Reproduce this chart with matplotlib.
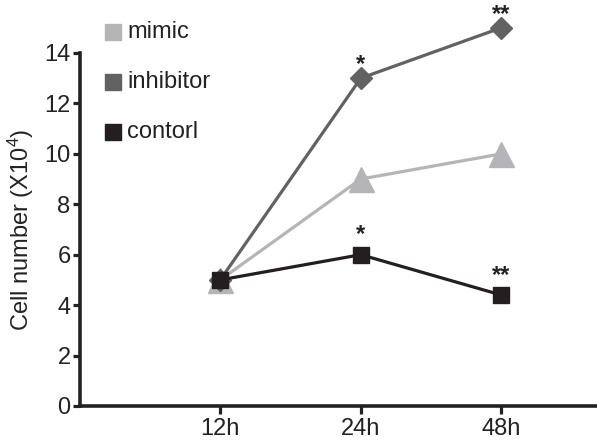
import matplotlib.pyplot as plt
from matplotlib.lines import Line2D

plt.rcParams['font.family'] = ['Liberation Sans', 'DejaVu Sans']
plt.rcParams['mathtext.fontset'] = 'custom'
plt.rcParams['mathtext.rm'] = 'Liberation Sans'
plt.rcParams['mathtext.it'] = 'Liberation Sans:italic'

# data
times = ['12h', '24h', '48h']
mimic = [5, 9, 10]
inhibitor = [5, 13, 15]
control = [5, 6, 4.4]
inhibitor_stars = ['', '*', '**']
control_stars = ['', '*', '**']
labels = ['mimic', 'inhibitor', 'contorl']

x = [1, 2, 3]
c_mimic = '#b5b5b7'
c_inhib = '#626262'
c_ctrl = '#231f20'
c_text = '#222222'

fig = plt.figure(figsize=(5.97, 4.41), dpi=100)
ax = fig.add_axes([0.1333, 0.0794, 0.8667, 0.8005])

ax.plot(x, mimic, color=c_mimic, lw=2.3, marker='^', ms=18, clip_on=False, zorder=3)
ax.plot(x, inhibitor, color=c_inhib, lw=2.3, marker='D', ms=11, clip_on=False, zorder=4)
ax.plot(x, control, color=c_ctrl, lw=2.3, marker='s', ms=11.5, clip_on=False, zorder=5)

for xi, yi, s in zip(x, inhibitor, inhibitor_stars):
    if s:
        ax.annotate(s, (xi, yi), xytext=(0, 5), textcoords='offset points',
                    ha='center', va='baseline', fontsize=17, fontweight='bold',
                    color=c_text, annotation_clip=False)
for xi, yi, s in zip(x, control, control_stars):
    if s:
        ax.annotate(s, (xi, yi), xytext=(0, 9.5), textcoords='offset points',
                    ha='center', va='baseline', fontsize=17, fontweight='bold',
                    color=c_text, annotation_clip=False)

ax.set_xlim(0, 3.68)
ax.set_ylim(0, 14)
ax.set_xticks(x)
ax.set_xticklabels(times)
ax.set_yticks(range(0, 15, 2))
ax.tick_params(labelsize=17, width=2.3, length=5, color=c_text, labelcolor=c_text)
ax.tick_params(axis='y', pad=1.5)
ax.tick_params(axis='x', pad=3, length=5.5)
for side in ['top', 'right']:
    ax.spines[side].set_visible(False)
for side in ['left', 'bottom']:
    ax.spines[side].set_linewidth(2.6)
    ax.spines[side].set_color(c_text)
ax.set_ylabel('Cell number (X10$^{4}$)', fontsize=17, color=c_text)
ax.yaxis.set_label_coords(-0.085, 0.5)

# legend drawn by hand above the plot area, as in the original
for i, (lab, c) in enumerate(zip(labels, [c_mimic, c_inhib, c_ctrl])):
    yf = 1 - (32 + 50 * i) / 441
    fig.add_artist(Line2D([113 / 597], [yf], ls='', marker='s', ms=11, color=c,
                          transform=fig.transFigure))
    fig.text(127 / 597, yf, lab, fontsize=17, color=c_text, ha='left', va='center')

fig.savefig('out.png', dpi=100)
